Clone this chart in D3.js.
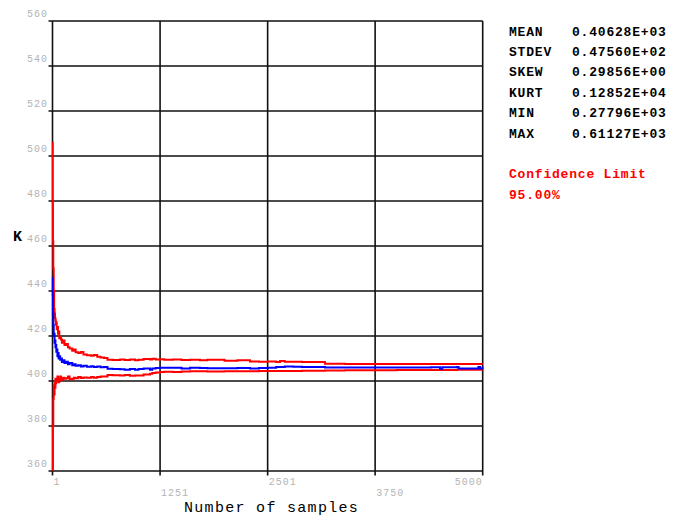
<!DOCTYPE html>
<html>
<head>
<meta charset="utf-8">
<script src="https://cdn.jsdelivr.net/npm/d3@7"></script>
<style>
  html, body { margin: 0; padding: 0; background: #fff; }
  svg { display: block; }
</style>
</head>
<body>
<svg id="chart" width="685" height="516"></svg>
<script>
// Running estimate of K against the number of samples, with 95% confidence band
const samples = [1, 3, 6, 10, 15, 20, 25, 30, 35, 40, 45, 50, 58, 65, 72, 80, 90, 100, 110, 125, 140, 160,
  180, 200, 230, 250, 270, 300, 330, 360, 400, 450, 480, 520, 560, 600, 640, 700, 785, 840, 900, 960,
  1000, 1060, 1134, 1160, 1200, 1250, 1300, 1400, 1500, 1600, 1715, 1800, 2000, 2150, 2296, 2400, 2505,
  2600, 2644, 2700, 2800, 2900, 3016, 3167, 3400, 3690, 4000, 4400, 4504, 4530, 4700, 4720, 4950, 4970, 5000];
const upperLimit = [506, 480, 462, 450, 440, 432, 430, 428, 427, 425, 426, 423, 424, 421, 422, 419, 419.5,
  418.5, 417, 418, 416, 416.5, 415, 414.5, 413.5, 414, 412.8, 412.5, 412.9, 411.8, 411.5, 411.2, 411.6, 410.8,
  410.5, 410.2, 409.5, 409.3, 409.6, 409.3, 409.6, 409.2, 409.4, 409.8, 409.6, 409.9, 409.6, 409.7, 409.4,
  409.6, 409.3, 409.5, 409.2, 409.4, 409.0, 409.2, 408.7, 408.6, 408.7, 408.5, 408.9, 408.6, 408.6, 408.5,
  408.5, 407.7, 407.6, 407.6, 407.6, 407.6, 407.6, 407.6, 407.6, 407.6, 407.6, 407.6, 407.6];
const runningMean = [446, 438, 430, 425, 420, 421, 417, 418, 415, 416, 413, 414, 411, 412.5, 410, 411,
  409.5, 410, 408.5, 409.2, 408, 408.6, 407.5, 408, 407, 407.4, 406.8, 407, 406.5, 406.8, 406.3, 406.6,
  406.2, 406.4, 406.1, 406.2, 405.4, 405.3, 405.2, 405.0, 405.3, 405.0, 405.3, 405.6, 405.0, 405.6, 405.8,
  405.9, 405.9, 405.9, 405.6, 405.9, 405.8, 405.7, 405.7, 405.8, 405.6, 405.8, 405.9, 406.2, 406.2, 406.4,
  406.3, 406.2, 406.2, 406.0, 406.0, 406.0, 406.0, 406.1, 405.5, 406.1, 406.2, 405.6, 406.2, 405.6, 406.28];
const lowerLimit = [350, 360, 380, 392, 398, 394, 399, 397, 401, 399, 401, 400, 402, 401, 399.5, 400.5,
  402, 401, 400.5, 401.5, 401, 401.2, 402, 400.8, 401, 401.5, 401.2, 401.8, 401.3, 401.6, 401.5, 401.8,
  401.5, 401.8, 402, 402, 402.7, 402.6, 402.4, 402.7, 402.3, 402.5, 402.5, 402.9, 403.2, 403.6, 403.8,
  404.0, 404.1, 404.0, 404.2, 404.3, 404.3, 404.2, 404.3, 404.3, 404.3, 404.4, 404.4, 404.5, 404.5, 404.5,
  404.5, 404.6, 404.6, 404.7, 404.8, 404.8, 404.9, 404.9, 404.9, 404.9, 405.0, 405.0, 405.0, 405.0, 405.0];

const yTicks = [360, 380, 400, 420, 440, 460, 480, 500, 520, 540, 560];
const xTicks = [1, 1251, 2501, 3750, 5000];

const statNames = ["MEAN", "STDEV", "SKEW", "KURT", "MIN", "MAX"];
const statValues = ["0.40628E+03", "0.47560E+02", "0.29856E+00", "0.12852E+04", "0.27796E+03", "0.61127E+03"];
const confidenceText = ["Confidence Limit", "95.00%"];

const svg = d3.select("#chart");
const x = d3.scaleLinear().domain([1, 5000]).range([52.5, 482.7]);
const y = d3.scaleLinear().domain([360, 560]).range([471, 21]);

const mono = "'Liberation Mono', 'DejaVu Sans Mono', monospace";

// horizontal grid with short ticks on the left
svg.append("g").selectAll("line").data(yTicks).join("line")
  .attr("x1", 48.5).attr("x2", x(5000))
  .attr("y1", d => y(d)).attr("y2", d => y(d))
  .attr("stroke", "#111").attr("stroke-width", 1.6);

// vertical grid with short ticks below
svg.append("g").selectAll("line").data(xTicks).join("line")
  .attr("x1", d => x(d)).attr("x2", d => x(d))
  .attr("y1", y(560)).attr("y2", y(360) + 4.5)
  .attr("stroke", "#111").attr("stroke-width", 1.6);

// y tick labels
svg.append("g").selectAll("text").data(yTicks).join("text")
  .attr("x", 48).attr("y", d => y(d) - 4.5)
  .attr("text-anchor", "end")
  .attr("font-family", mono).attr("font-size", 10).attr("letter-spacing", 1)
  .attr("fill", "#b4b4b4")
  .text(d => d);

// x tick labels, alternating rows
svg.append("g").selectAll("text").data(xTicks).join("text")
  .attr("x", (d, i) => i === xTicks.length - 1 ? x(d) : x(d) + 1)
  .attr("y", (d, i) => i % 2 === 0 ? 485 : 496)
  .attr("text-anchor", (d, i) => i === xTicks.length - 1 ? "end" : "start")
  .attr("font-family", mono).attr("font-size", 10).attr("letter-spacing", 1)
  .attr("fill", "#b4b4b4")
  .text(d => d);

// series, clipped to the plot frame
svg.append("clipPath").attr("id", "plotClip")
  .append("rect").attr("x", x(1) - 1).attr("y", y(560)).attr("width", x(5000) - x(1) + 2).attr("height", y(360) - y(560));

const plot = svg.append("g").attr("clip-path", "url(#plotClip)");
const line = vals => d3.line().curve(d3.curveStepAfter)
  .x((d, i) => x(samples[i])).y(d => y(d))(vals);

plot.append("path").attr("d", line(upperLimit)).attr("fill", "none").attr("stroke", "#ff0000").attr("stroke-width", 2);
plot.append("path").attr("d", line(lowerLimit)).attr("fill", "none").attr("stroke", "#ff0000").attr("stroke-width", 2);
plot.append("path").attr("d", line(runningMean)).attr("fill", "none").attr("stroke", "#0000ff").attr("stroke-width", 2);

// axis titles
svg.append("text").attr("x", 13).attr("y", 241)
  .attr("font-family", mono).attr("font-size", 15).attr("font-weight", "bold")
  .attr("fill", "#000").text("K");
svg.append("text").attr("x", 184).attr("y", 512)
  .attr("font-family", mono).attr("font-size", 15).attr("letter-spacing", 1.3)
  .attr("fill", "#000").text("Number of samples");

// summary statistics
const stats = svg.append("g").attr("font-family", mono).attr("font-size", 13)
  .attr("font-weight", "bold").attr("letter-spacing", 0.8);
stats.selectAll("text.name").data(statNames).join("text").attr("class", "name")
  .attr("x", 509).attr("y", (d, i) => 35.5 + i * 20.4).attr("fill", "#000").text(d => d);
stats.selectAll("text.val").data(statValues).join("text").attr("class", "val")
  .attr("x", 572).attr("y", (d, i) => 35.5 + i * 20.4).attr("fill", "#000").text(d => d);
stats.selectAll("text.conf").data(confidenceText).join("text").attr("class", "conf")
  .attr("x", 509).attr("y", (d, i) => 177.5 + i * 21.5).attr("fill", "#ff0000").text(d => d);
</script>
</body>
</html>
